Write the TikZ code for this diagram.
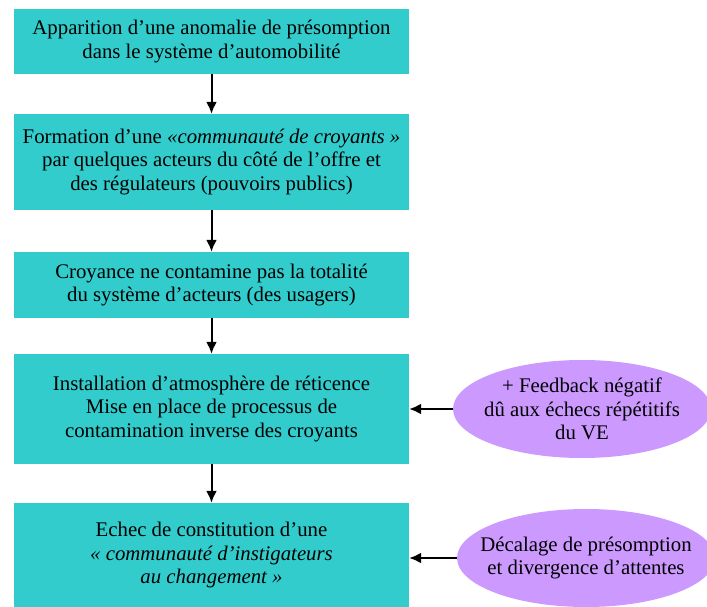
\documentclass[tikz,border=0pt]{standalone}
\usepackage{fontspec}
\setmainfont{Liberation Serif}
\usetikzlibrary{shapes.geometric,arrows.meta}

\definecolor{boxteal}{HTML}{33CCCC}
\definecolor{ovallilac}{HTML}{CC99FF}

\begin{document}
\begin{tikzpicture}[x=1pt,y=-1pt,
    etape/.style={fill=boxteal,minimum width=395pt,inner sep=0pt,align=center,
        font=\fontsize{20.8}{23.5}\selectfont},
    effet/.style={ellipse,fill=ovallilac,minimum width=258pt,minimum height=98pt,
        inner xsep=-20pt,inner ysep=-8pt,align=center,font=\fontsize{20.8}{23.5}\selectfont},
    fleche/.style={-{Latex[length=12pt,width=11pt]},line width=2pt}]

        \useasboundingbox (0,0) rectangle (707,607);

        % Steps of the chain, top to bottom
        \node[etape,minimum height=65pt] (apparition) at (211.5,41.5)
            {Apparition d’une anomalie de présomption\\dans le système d’automobilité};
        \node[etape,minimum height=96pt] (formation) at (211.5,162)
            {Formation d’une \textit{«communauté de croyants »}\\par quelques acteurs du côté de l’offre et\\des régulateurs (pouvoirs publics)};
        \node[etape,minimum height=66pt] (croyance) at (211.5,285)
            {Croyance ne contamine pas la totalité\\du système d’acteurs (des usagers)};
        \node[etape,minimum height=110pt] (reticence) at (211.5,409)
            {Installation d’atmosphère de réticence\\Mise en place de processus de\\contamination inverse des croyants};
        \node[etape,minimum height=104pt] (echec) at (211.5,555)
            {Echec de constitution d’une\\\textit{« communauté d’instigateurs}\\\textit{au changement »}};

        % Outside influences
        \node[effet] (feedback) at (582,409)
            {+ Feedback négatif\\dû aux échecs répétitifs\\du VE};
        \node[effet] (decalage) at (586,558)
            {Décalage de présomption\\et divergence d’attentes};

        % Arrows between the steps
        \draw[fleche] (apparition) -- (formation);
        \draw[fleche] (formation) -- (croyance);
        \draw[fleche] (croyance) -- (reticence);
        \draw[fleche] (reticence) -- (echec);

        % Arrows from the influences
        \draw[fleche] (feedback.west) -- (reticence.east |- feedback.west);
        \draw[fleche] (decalage.west) -- (echec.east |- decalage.west);

    \end{tikzpicture}
\end{document}
